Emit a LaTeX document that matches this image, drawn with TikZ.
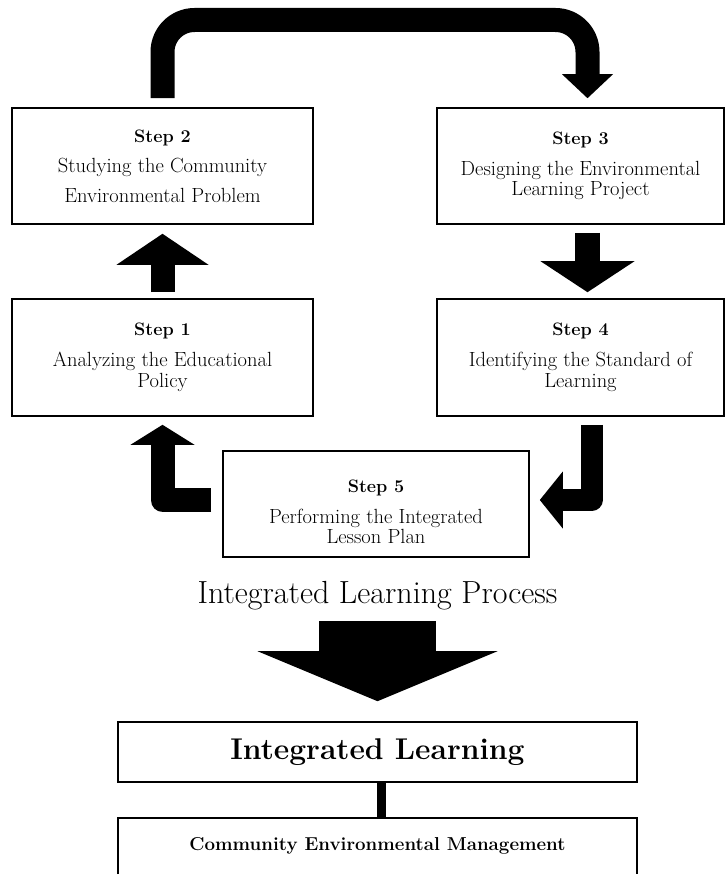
\documentclass[tikz,border=0pt]{standalone}
\usetikzlibrary{arrows.meta}

\tikzset{
  stepbox/.style={draw, line width=1.6pt, align=center, inner sep=0pt,
    font=\fontsize{20.5}{20}\selectfont},
  block/.style={line width=#1, line join=round},
}
\newcommand{\steptitle}[1]{{\fontsize{18}{20}\selectfont\bfseries #1}}

\begin{document}
\begin{tikzpicture}[x=1pt, y=-1pt]
    \useasboundingbox (0,0) rectangle (726,875);
    \fill[white] (0,0) rectangle (726,875);

    % Schritte
    \node[stepbox, minimum width=301pt, minimum height=116pt] (step2) at (162.5,166)
      {\steptitle{Step 2}\\[10pt] Studying the Community\\[10pt] Environmental Problem};
    \node[stepbox, minimum width=287pt, minimum height=116pt] (step3) at (580.5,166)
      {\steptitle{Step 3}\\[11pt] Designing the Environmental\\ Learning Project};
    \node[stepbox, minimum width=301pt, minimum height=117pt] (step1) at (162.5,357.5)
      {\steptitle{Step 1}\\[11pt] Analyzing the Educational\\[1pt] Policy};
    \node[stepbox, minimum width=287pt, minimum height=117pt] (step4) at (580.5,357.5)
      {\steptitle{Step 4}\\[11pt] Identifying the Standard of\\[1pt] Learning};
    \node[stepbox, minimum width=306pt, minimum height=106pt] (step5) at (376,504)
      {\rule{0pt}{29pt}\steptitle{Step 5}\\[11pt] Performing the Integrated\\ Lesson Plan};

    % Ergebnis
    \node[font=\fontsize{32}{34}\selectfont] (process) at (377.5,596) {Integrated Learning Process};
    \node[stepbox, minimum width=519pt, minimum height=60pt, font=\fontsize{30}{32}\selectfont\bfseries]
      (learn) at (377.5,752) {Integrated Learning};
    \node[align=center, inner sep=0pt, minimum width=519pt, minimum height=56pt,
      font=\fontsize{18.7}{20}\selectfont\bfseries] (manage) at (377.5,846)
      {Community Environmental Management};
    \draw[line width=1.6pt] (manage.south west) -- (manage.north west)
      -- (manage.north east) -- (manage.south east);

    % Pfeile
    \coordinate (loop) at (370,20);
    \draw[block=24pt, rounded corners=32pt, -{Triangle[width=51pt,length=24pt,line width=0pt]}]
      ([yshift=9pt]step2.north) |- (loop) -| ([xshift=7pt,yshift=9pt]step3.north);
    \draw[block=24pt, -{Triangle[width=92pt,length=31pt,line width=0pt]}]
      ([yshift=6pt]step1.north) -- ([yshift=-9pt]step2.south);
    \draw[block=25pt, -{Triangle[width=94pt,length=31pt,line width=0pt]}]
      ([xshift=7pt,yshift=-8pt]step3.south) -- ([xshift=7pt,yshift=6pt]step4.north);
    \draw[block=22pt, -{Triangle[width=57pt,length=23pt,line width=0pt]}]
      ([xshift=11pt,yshift=-8pt]step4.south) |- ([xshift=10pt,yshift=4pt]step5.east);
    \draw[block=24pt, -{Triangle[width=64pt,length=20pt,line width=0pt]}]
      ([xshift=-11pt,yshift=4pt]step5.west) -| ([yshift=-8pt]step1.south);
    \draw[block=117pt, -{Triangle[width=240pt,length=50pt,line width=0pt]}]
      ([yshift=-25pt]process.center) -- ([yshift=20pt]learn.north);
    \draw[line width=9pt] ([xshift=4pt]learn.south) -- ([xshift=4pt]manage.north);
\end{tikzpicture}
\end{document}
